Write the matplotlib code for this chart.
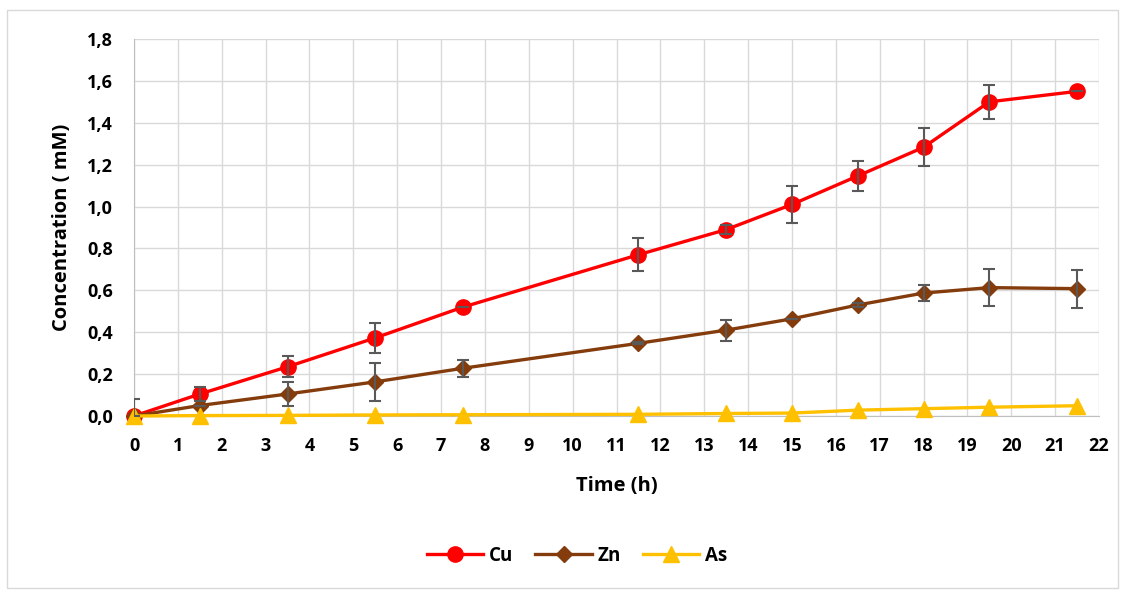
import matplotlib

matplotlib.use("Agg")
import matplotlib.pyplot as plt
from matplotlib.patches import Rectangle
from matplotlib.ticker import FuncFormatter, MultipleLocator

plt.rcParams["font.family"] = ["Open Sans", "DejaVu Sans"]
plt.rcParams["font.weight"] = "bold"

time_h = [0, 1.5, 3.5, 5.5, 7.5, 11.5, 13.5, 15, 16.5, 18, 19.5, 21.5]

cu = [0.0, 0.105, 0.235, 0.373, 0.52, 0.77, 0.89, 1.01, 1.146, 1.283, 1.50, 1.55]
cu_err = [0.0, 0.035, 0.05, 0.07, 0.0, 0.08, 0.02, 0.09, 0.07, 0.09, 0.08, 0.0]

zn = [0.0, 0.05, 0.105, 0.163, 0.228, 0.347, 0.41, 0.464, 0.53, 0.587, 0.613, 0.608]
zn_err = [0.08, 0.0, 0.057, 0.09, 0.04, 0.005, 0.05, 0.0, 0.01, 0.04, 0.09, 0.09]

as_ = [0.0, 0.002, 0.003, 0.005, 0.006, 0.008, 0.012, 0.014, 0.028, 0.035, 0.042, 0.049]
as_err = [0.0] * 12

W, H = 1123, 590
fig = plt.figure(figsize=(W / 100, H / 100), dpi=100)
fig.patches.append(
    Rectangle((7 / W, 2 / H), 1111 / W, (H - 12) / H, transform=fig.transFigure,
              fill=False, edgecolor="#D9D9D9", linewidth=1.0)
)
ax = fig.add_axes([134 / W, (H - 416) / H, (1099 - 134) / W, (416 - 39) / H])

series = [
    ("Cu", cu, cu_err, "#FF0000", "o", 11),
    ("Zn", zn, zn_err, "#843C0C", "D", 8),
    ("As", as_, as_err, "#FFC000", "^", 11),
]
for name, vals, err, color, marker, ms in series:
    if any(err):
        ax.errorbar(time_h, vals, yerr=err, fmt="none", ecolor="#595959",
                    elinewidth=1.5, capsize=4.5, capthick=1.5, zorder=4)
    ax.plot(time_h, vals, color=color, linewidth=2.4, marker=marker,
            markersize=ms, label=name, zorder=3, clip_on=False)

ax.set_xlim(0, 22)
ax.set_ylim(0, 1.8)
ax.xaxis.set_major_locator(MultipleLocator(1))
ax.yaxis.set_major_locator(MultipleLocator(0.2))
ax.yaxis.set_major_formatter(FuncFormatter(lambda v, _: f"{v:.1f}".replace(".", ",")))
ax.grid(True, color="#D9D9D9", linewidth=1.0)
ax.set_axisbelow(True)
for side in ("top", "right"):
    ax.spines[side].set_visible(False)
for side in ("left", "bottom"):
    ax.spines[side].set_color("#BFBFBF")
ax.tick_params(axis="x", length=0, labelsize=13, pad=15)
ax.tick_params(axis="y", length=0, labelsize=13, pad=15)
for lbl in ax.get_xticklabels() + ax.get_yticklabels():
    lbl.set_fontweight("bold")

ax.set_xlabel("Time (h)", fontsize=14.5, fontweight="bold", labelpad=15)
ax.set_ylabel("Concentration ( mM)", fontsize=14.5, fontweight="bold", labelpad=11)

ax.legend(loc="center", bbox_to_anchor=(577 / W, (H - 556) / H), bbox_transform=fig.transFigure,
          ncol=3, frameon=False, prop={"size": 13.5, "weight": "bold"},
          handlelength=3.0, columnspacing=1.2, handletextpad=0.3)

fig.savefig("out.png", dpi=100)
